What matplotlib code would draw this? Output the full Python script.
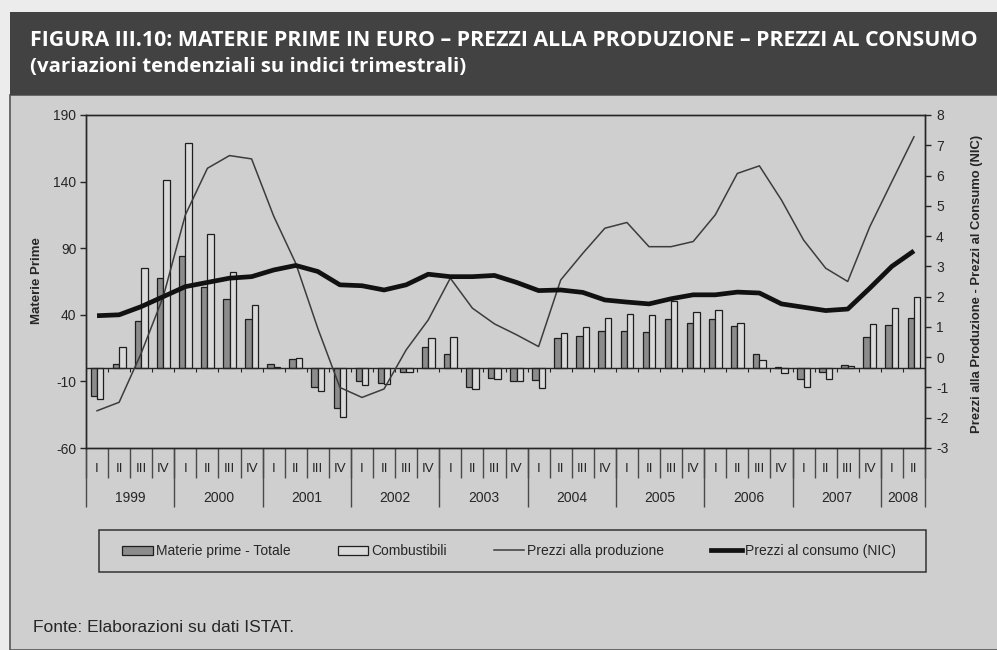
import numpy as np
import matplotlib.pyplot as plt
from matplotlib.patches import Rectangle
from matplotlib.lines import Line2D

plt.rcParams['font.family'] = ['Liberation Sans', 'DejaVu Sans']
plt.rcParams['axes.unicode_minus'] = False

# quarterly data, 1999 I - 2008 II
years = ['1999', '2000', '2001', '2002', '2003', '2004', '2005', '2006', '2007', '2008']
quarters = ['I', 'II', 'III', 'IV'] * 9 + ['I', 'II']

# left axis: raw materials (y/y % change)
materie_totale = [-21, 3, 35.5, 67.5,
                  84.5, 60.5, 52, 37,
                  3, 7, -14, -30,
                  -9.5, -11, -3, 16,
                  10.5, -14, -7.5, -10,
                  -9, 22.5, 24, 27.5,
                  28, 27, 37, 33.5,
                  37, 31.5, 10.5, 1,
                  -8, -3, 2, 23.5,
                  32.5, 37.5]
combustibili = [-23, 16, 75, 141,
                169, 101, 72, 47.5,
                1, 7.5, -17, -37,
                -13, -12, -3, 22.5,
                23, -16, -8, -9.5,
                -15, 26, 31, 37.5,
                40.5, 40, 50.5, 42,
                43.5, 34, 6, -4,
                -14.5, -8, 1.5, 33,
                45, 53]

# right axis: producer and consumer prices
prezzi_produzione = [-1.77, -1.49, 0.13, 2.0,
                     4.7, 6.24, 6.66, 6.55,
                     4.66, 3.1, 0.95, -1.0,
                     -1.33, -1.05, 0.24, 1.23,
                     2.61, 1.62, 1.10, 0.74,
                     0.35, 2.55, 3.43, 4.26,
                     4.45, 3.65, 3.65, 3.82,
                     4.70, 6.07, 6.32, 5.19,
                     3.87, 2.94, 2.50, 4.31,
                     5.80, 7.28]
prezzi_consumo = [1.37, 1.40, 1.67, 2.0,
                  2.33, 2.47, 2.61, 2.66,
                  2.88, 3.03, 2.83, 2.39,
                  2.36, 2.22, 2.39, 2.74,
                  2.66, 2.66, 2.70, 2.47,
                  2.20, 2.22, 2.14, 1.89,
                  1.82, 1.76, 1.93, 2.06,
                  2.06, 2.15, 2.12, 1.76,
                  1.65, 1.54, 1.59, 2.28,
                  3.0, 3.51]

W, H = 997, 650
PANEL = '#cfcfcf'
LIGHT_BAR = '#dadada'
DARK_BAR = '#8c8c8c'
INK = '#262626'


def fx(px):
    return px / W


def fy(py):
    return 1 - py / H


fig = plt.figure(figsize=(W / 100, H / 100), dpi=100, facecolor='#ececec')

# header band and grey panel
fig.patches.append(Rectangle((fx(10), fy(650)), 1, (650 - 95) / H, transform=fig.transFigure,
                             facecolor=PANEL, edgecolor='#555555', linewidth=1.2, zorder=-10))
fig.patches.append(Rectangle((fx(10), fy(95)), 1, (95 - 12) / H, transform=fig.transFigure,
                             facecolor='#424242', edgecolor='none', zorder=-10))

title = fig.text(fx(30), fy(41), 'FIGURA III.10: MATERIE PRIME IN EURO \u2013 PREZZI ALLA PRODUZIONE \u2013 PREZZI AL CONSUMO',
                 color='white', fontsize=13.5, fontweight='bold', family='Open Sans', va='center', ha='left')
subtitle = fig.text(fx(30), fy(67), '(variazioni tendenziali su indici trimestrali)',
                    color='white', fontsize=13.5, fontweight='bold', family='Open Sans', va='center', ha='left')

# stretch the two header lines to their widths
fig.canvas.draw()
for t, right in ((title, 980), (subtitle, 468)):
    bb = t.get_window_extent()
    t.set_fontsize(13.5 * (right - 30) / bb.width)

ax = fig.add_axes([fx(86), fy(448), fx(925) - fx(86), (448 - 115) / H])
ax.set_facecolor('none')
x = np.arange(len(quarters))
bw = 0.29
ax.bar(x - bw / 2, materie_totale, width=bw, color=DARK_BAR, edgecolor='#1e1e1e', linewidth=0.9, zorder=2)
ax.bar(x + bw / 2, combustibili, width=bw, color=LIGHT_BAR, edgecolor='#1e1e1e', linewidth=0.9, zorder=2)
ax.set_xlim(-0.5, len(quarters) - 0.5)
ax.set_ylim(-60, 190)
ax.set_yticks(np.arange(-60, 191, 50))
ax.set_xticks([])
ax.axhline(0, color=INK, linewidth=1, zorder=3)
ax.vlines(np.arange(-0.5, len(quarters), 1), -2.8, 0, color=INK, linewidth=0.8, zorder=3)
for s in ax.spines.values():
    s.set_color(INK)
    s.set_linewidth(1)
ax.tick_params(axis='y', direction='out', length=4, width=1, color=INK, labelsize=10, labelcolor=INK, pad=3)

ax2 = ax.twinx()
ax2.plot(x, prezzi_produzione, color='#3c3c3c', linewidth=1.1, zorder=4)
ax2.plot(x, prezzi_consumo, color='#111111', linewidth=3.4, solid_capstyle='butt',
         solid_joinstyle='round', zorder=5)
ax2.set_ylim(-3, 8)
ax2.set_yticks(np.arange(-3, 9, 1))
ax2.tick_params(axis='y', direction='out', length=4, width=1, color=INK, labelsize=10, labelcolor=INK, pad=4)
for s in ax2.spines.values():
    s.set_color(INK)
    s.set_linewidth(1)

# two-level category axis below the plot area
tr = ax.get_xaxis_transform()
for i, q in enumerate(quarters):
    ax.text(i, -0.063, q, transform=tr, ha='center', va='center', fontsize=9.5, color=INK)
ax.vlines(np.arange(-0.5, len(quarters), 1), -0.09, 0, transform=tr, color='#4a4a4a',
          linewidth=1, clip_on=False)
year_edges = list(np.arange(-0.5, len(quarters), 4)) + [len(quarters) - 0.5]
ax.vlines(year_edges, -0.178, 0, transform=tr, color='#4a4a4a', linewidth=1, clip_on=False)
for k, yr in enumerate(years):
    lo = year_edges[k]
    hi = year_edges[k + 1]
    ax.text((lo + hi) / 2, -0.150, yr, transform=tr, ha='center', va='center', fontsize=10, color=INK)

fig.text(fx(37), fy(281), 'Materie Prime', rotation=90, ha='center', va='center',
         fontsize=9.5, fontweight='bold', color=INK)
fig.text(fx(977), fy(284), 'Prezzi alla Produzione - Prezzi al Consumo (NIC)', rotation=90,
         ha='center', va='center', fontsize=9.4, fontweight='bold', color=INK)

# legend with its own frame
fig.patches.append(Rectangle((fx(99), fy(572)), fx(926) - fx(99), (572 - 530) / H,
                             transform=fig.transFigure, facecolor='none', edgecolor='#333333',
                             linewidth=1.1, zorder=1))
handles = [Rectangle((0, 0), 1, 1, facecolor=DARK_BAR, edgecolor='#1e1e1e', linewidth=0.9),
           Rectangle((0, 0), 1, 1, facecolor=LIGHT_BAR, edgecolor='#1e1e1e', linewidth=0.9),
           Line2D([], [], color='#3c3c3c', linewidth=1.1),
           Line2D([], [], color='#111111', linewidth=3.4)]
labels = ['Materie prime - Totale', 'Combustibili', 'Prezzi alla produzione', 'Prezzi al consumo (NIC)']
fig.legend(handles, labels, loc='center', bbox_to_anchor=(fx(509), fy(551)), ncol=4, frameon=False,
           fontsize=10, handlelength=2.2, handleheight=0.6, handletextpad=0.2, columnspacing=3.4,
           labelcolor=INK)

fig.text(fx(33), fy(627), 'Fonte: Elaborazioni su dati ISTAT.', fontsize=12.5, color=INK,
         ha='left', va='center')

fig.savefig('out.png', dpi=100, facecolor=fig.get_facecolor())
